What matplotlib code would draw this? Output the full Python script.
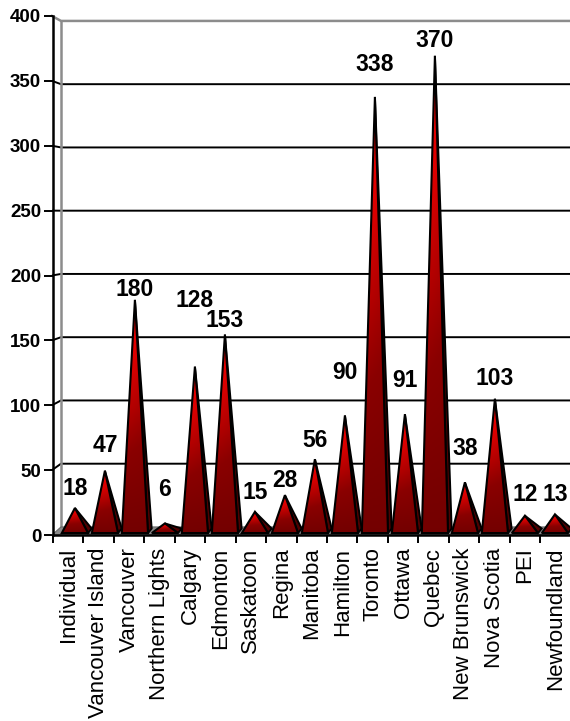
import numpy as np
import matplotlib.pyplot as plt
from matplotlib.patches import Polygon
from matplotlib.colors import LinearSegmentedColormap

plt.rcParams['font.family'] = ['Liberation Sans', 'DejaVu Sans']

# data
regions = ['Individual', 'Vancouver Island', 'Vancouver', 'Northern Lights',
           'Calgary', 'Edmonton', 'Saskatoon', 'Regina', 'Manitoba',
           'Hamilton', 'Toronto', 'Ottawa', 'Quebec', 'New Brunswick',
           'Nova Scotia', 'PEI', 'Newfoundland']
counts = [18, 47, 180, 6, 128, 153, 15, 28, 56, 90, 338, 91, 370, 38, 103, 12, 13]
y_ticks = [0, 50, 100, 150, 200, 250, 300, 350, 400]

# how far each value label sits above its peak (layout only)
label_lift = [18, 22, 9, 29, 53, 12, 18, 14, 17, 35, 25, 28, 11, 29, 18, 19, 18]

W, H = 570, 721
fig = plt.figure(figsize=(W / 100, H / 100), dpi=100)
ax = fig.add_axes([53 / W, 186 / H, 517.5 / W, 519 / H])
n = len(regions)
ax.set_xlim(-0.5, n - 0.5)
ax.set_ylim(0, 400)
PX = 517.5 / n          # pixels per category

# pseudo 3d depth: back wall shifted right and slightly squeezed
ddx = 9 / PX
def back(v):
    return 6.2 + 0.975 * v

x_front = -0.5 - 1 / PX
x_back = x_front + ddx
x_end = n - 0.5 + 0.5

# side wall connectors + back wall grid
for v in y_ticks[1:-1]:
    ax.plot([x_front, x_back, x_end], [v, back(v), back(v)], color='black',
            lw=1.4, zorder=1, clip_on=False, solid_capstyle='butt')
ax.plot([x_front, x_back, x_end], [400, back(400), back(400)], color='#8c8c8c',
        lw=1.8, zorder=1, clip_on=False)
ax.plot([x_back, x_back], [back(0), back(400)], color='#8c8c8c', lw=1.8,
        zorder=1, clip_on=False)

# floor
floor = Polygon([(x_front, 0), (x_end, 0), (x_end + ddx, back(0)), (x_back, back(0))],
                closed=True, facecolor='#8a8a8a', edgecolor='#6a6a6a', lw=0.8,
                zorder=2, clip_on=False)
ax.add_patch(floor)

cmap = LinearSegmentedColormap.from_list('cone', ['#700000', '#8a0000', '#d80000', '#ff0000'])
ty = np.linspace(0, 1, 256).reshape(-1, 1)
tx = np.linspace(0, 1, 64).reshape(1, -1)
grad = ty ** 1.1 * (1 - 0.25 * tx) + 0.05

half = 0.43
base = 1.5
for i, v in enumerate(counts):
    # peaks sit at mid depth, so they are spaced a little tighter than the ticks
    cx = 0.22 + 0.9855 * i
    peak = 3.0 + 0.99 * v
    side = Polygon([(cx + half, base), (cx + half + 0.12, base + 3.5), (cx, peak)],
                   closed=True, facecolor='#500000', edgecolor='black', lw=1.4,
                   zorder=3 + i * 0.01)
    ax.add_patch(side)
    front = Polygon([(cx - half, base), (cx + half, base), (cx, peak)], closed=True,
                    facecolor='none', edgecolor='black', lw=1.5, zorder=3.005 + i * 0.01)
    ax.add_patch(front)
    im = ax.imshow(grad, extent=[cx - half, cx + half, base, peak], origin='lower',
                   aspect='auto', cmap=cmap, vmin=0, vmax=1, zorder=3.002 + i * 0.01)
    im.set_clip_path(front)
    ax.text(cx, v + label_lift[i], str(v), ha='center', va='center',
            fontsize=16.5, fontweight='bold', zorder=10)

ax.set_xlim(-0.5, n - 0.5)
ax.set_ylim(0, 400)

for s in ['top', 'right']:
    ax.spines[s].set_visible(False)
ax.spines['left'].set_linewidth(1.8)
ax.spines['bottom'].set_linewidth(1.8)
ax.spines['left'].set_zorder(5)
ax.spines['bottom'].set_zorder(5)

ax.set_yticks(y_ticks)
ax.set_yticklabels([str(t) for t in y_ticks], fontsize=13.5, fontweight='bold')
ax.tick_params(axis='y', length=6.5, width=1.4, pad=2)

ax.set_xticks(range(n))
ax.set_xticklabels(regions, rotation=90, fontsize=16)
ax.tick_params(axis='x', length=0, pad=9)
ax.set_xticks(np.arange(-0.5, n, 1), minor=True)
ax.tick_params(axis='x', which='minor', length=6, width=1.4)

fig.savefig('out.png', dpi=100)
